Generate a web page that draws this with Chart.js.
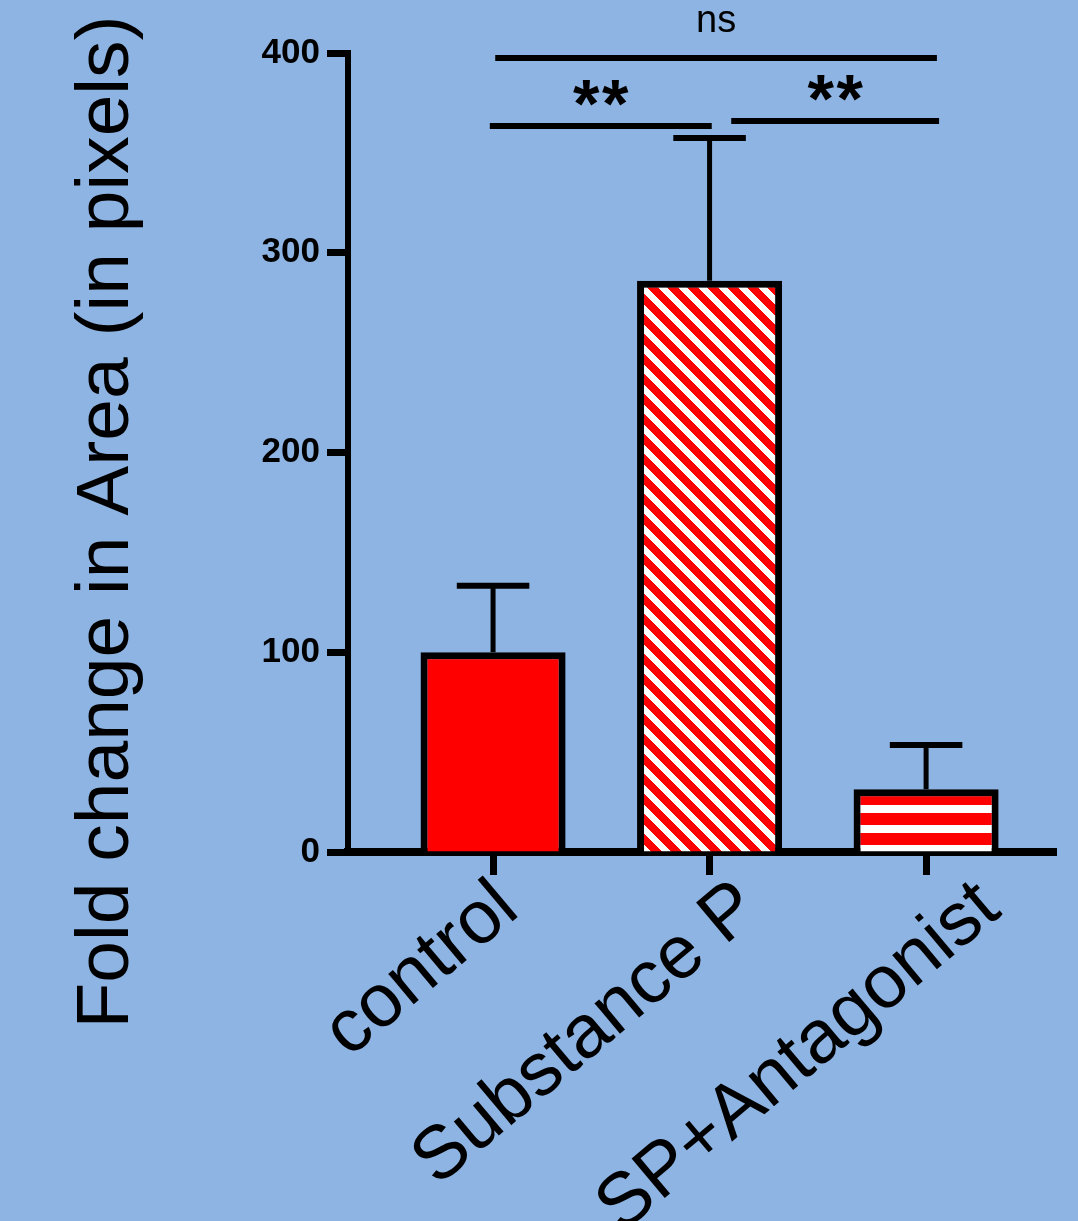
<!DOCTYPE html>
<html>
<head>
<meta charset="utf-8">
<script src="https://cdn.jsdelivr.net/npm/chart.js@4.4.1/dist/chart.umd.min.js"></script>
<style>
  html, body { margin: 0; padding: 0; background: #8eb4e3; }
  canvas { display: block; }
</style>
</head>
<body>
<canvas id="areaChart" width="1078" height="1221"></canvas>
<script>
const categories = ['control', 'Substance P', 'SP+Antagonist']
const means = [100, 286, 31.4]
const sem = [33.3, 71.5, 22.2]
const yTicks = [0, 100, 200, 300, 400]

// significance brackets (x in category units, level in axis units)
const sigFrom = [0.01, -0.015, 1.1]
const sigTo = [2.05, 1.01, 2.06]
const sigLevel = [397.5, 363.5, 366]
const sigLabels = ['ns', '**', '**']

const FONT = "'Liberation Sans', Arial, sans-serif"
const BG = '#8eb4e3'
const X_MIN = -0.67
const X_MAX = 2.6
// the rotated names sit a little to the right of their ticks, more so further right
const labelShift = [0.07, 0.185, 0.295]

function stripePattern(kind) {
  const c = document.createElement('canvas')
  c.width = 20
  c.height = 20
  const g = c.getContext('2d')
  g.fillStyle = '#ff0000'
  g.fillRect(0, 0, 20, 20)
  g.fillStyle = '#ffffff'
  if (kind === 'diag') {
    for (let y = 0; y < 20; y++) {
      const x0 = (y + 11) % 20
      g.fillRect(x0, y, 9, 1)
      if (x0 + 9 > 20) g.fillRect(x0 - 20, y, 9, 1)
    }
  } else {
    g.fillRect(0, 5, 20, 8)
  }
  return g.createPattern(c, 'repeat')
}

const fills = ['#ff0000', stripePattern('diag'), stripePattern('horiz')]

const decor = {
  id: 'decor',
  beforeDraw(chart) {
    const c = chart.ctx
    c.save()
    c.fillStyle = BG
    c.fillRect(0, 0, chart.width, chart.height)
    c.restore()
  },
  afterDatasetsDraw(chart) {
    const c = chart.ctx
    const { x, y } = chart.scales
    const bars = chart.getDatasetMeta(0).data
    c.save()
    c.strokeStyle = '#000'
    c.fillStyle = '#000'
    c.lineCap = 'butt'

    // error bars (upper half only)
    means.forEach((m, i) => {
      const px = x.getPixelForValue(i)
      const top = y.getPixelForValue(m + sem[i])
      const half = bars[i].width / 4
      c.lineWidth = 5
      c.beginPath()
      c.moveTo(px, y.getPixelForValue(m))
      c.lineTo(px, top)
      c.stroke()
      c.lineWidth = 6
      c.beginPath()
      c.moveTo(px - half, top)
      c.lineTo(px + half, top)
      c.stroke()
    })

    // significance lines + labels
    sigLabels.forEach((label, i) => {
      const x1 = x.getPixelForValue(sigFrom[i])
      const x2 = x.getPixelForValue(sigTo[i])
      const ly = y.getPixelForValue(sigLevel[i])
      c.lineWidth = 6
      c.beginPath()
      c.moveTo(x1, ly)
      c.lineTo(x2, ly)
      c.stroke()
      c.textAlign = 'center'
      c.textBaseline = 'alphabetic'
      const cx = (x1 + x2) / 2
      if (label === 'ns') {
        c.font = `38px ${FONT}`
        c.fillText(label, cx, ly - 26)
      } else {
        c.font = `bold 68px ${FONT}`
        const m = c.measureText('*')
        const off = (m.actualBoundingBoxAscent - m.actualBoundingBoxDescent) / 2
        c.fillText('*', cx - 14.5, ly - 33 + off)
        c.fillText('*', cx + 14.5, ly - 33 + off)
      }
    })

    // y axis title
    c.translate(128, 522)
    c.rotate(-Math.PI / 2)
    c.font = `75px ${FONT}`
    c.textAlign = 'center'
    c.textBaseline = 'alphabetic'
    c.fillText('Fold change in Area (in pixels)', 0, 0)
    c.restore()
  }
}

new Chart(document.getElementById('areaChart'), {
  type: 'bar',
  data: {
    datasets: [{
      data: means.map((v, i) => ({ x: i, y: v })),
      backgroundColor: fills,
      borderColor: '#000',
      borderWidth: 7,
      barPercentage: 0.67,
      categoryPercentage: 1
    }]
  },
  options: {
    responsive: false,
    animation: false,
    devicePixelRatio: 1,
    layout: { padding: { top: 53, right: 22, left: 0, bottom: 0 } },
    plugins: {
      legend: { display: false },
      tooltip: { enabled: false }
    },
    scales: {
      x: {
        type: 'linear',
        weight: 0,
        offset: false,
        min: X_MIN,
        max: X_MAX,
        afterBuildTicks: s => { s.ticks = categories.map((_, i) => ({ value: i })) },
        afterFit: s => { s.height = 23 },
        grid: { display: true, offset: false, drawOnChartArea: false, drawTicks: true, tickLength: 23, tickWidth: 7, tickColor: '#000' },
        border: { display: true, color: '#000', width: 8 },
        ticks: { display: false }
      },
      names: {
        type: 'linear',
        axis: 'x',
        position: 'bottom',
        weight: 1,
        offset: false,
        min: X_MIN,
        max: X_MAX,
        afterBuildTicks: s => { s.ticks = categories.map((_, i) => ({ value: i + labelShift[i] })) },
        afterFit: s => { s.height = 346 },
        grid: { display: false },
        border: { display: false },
        ticks: {
          callback: (v, i) => categories[i],
          color: '#000',
          font: { family: FONT, size: 75, lineHeight: 0.8 },
          padding: -8,
          minRotation: 40,
          maxRotation: 40,
          autoSkip: false
        }
      },
      y: {
        min: 0,
        max: 400,
        afterBuildTicks: s => { s.ticks = yTicks.map(v => ({ value: v })) },
        afterFit: s => { s.width = 348 },
        grid: { drawOnChartArea: false, tickLength: 21, tickWidth: 7, tickColor: '#000' },
        border: { display: true, color: '#000', width: 6 },
        ticks: { color: '#000', font: { family: FONT, size: 35, weight: 'bold' }, padding: 7 }
      }
    }
  },
  plugins: [decor]
})
</script>
</body>
</html>
